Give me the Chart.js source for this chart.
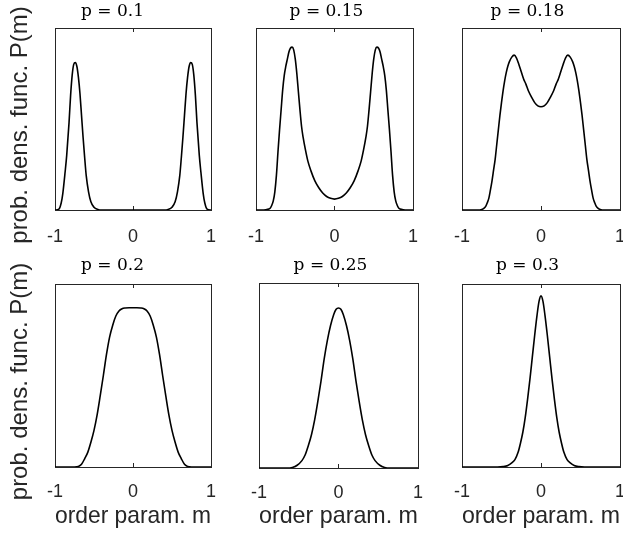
<!DOCTYPE html>
<html>
<head>
<meta charset="utf-8">
<script src="https://cdn.jsdelivr.net/npm/chart.js@4.4.1/dist/chart.umd.min.js"></script>
<style>
html,body{margin:0;padding:0;background:#fff;}
#wrap{position:relative;width:623px;height:542px;overflow:hidden;background:#fff;}
#wrap canvas{position:absolute;}
</style>
</head>
<body>
<div id="wrap"></div>
<script>
// ---- data ----
const panelTitles = ['p = 0.1', 'p = 0.15', 'p = 0.18', 'p = 0.2', 'p = 0.25', 'p = 0.3'];
const xTickValues = [-1, 0, 1];
const xAxisLabel = 'order param. m';
const yAxisLabel = 'prob. dens. func. P(m)';

const m_p010 = [-1,-0.95,-0.92,-0.9,-0.87,-0.85,-0.82,-0.8,-0.78,-0.76,-0.74,-0.72,-0.7,-0.68,-0.66,-0.64,-0.62,-0.6,-0.57,-0.54,-0.5,-0.45,-0.4,-0.3,-0.2,-0.1,0,0.1,0.2,0.3,0.4,0.45,0.5,0.54,0.57,0.6,0.62,0.64,0.66,0.68,0.7,0.72,0.74,0.76,0.78,0.8,0.82,0.85,0.87,0.9,0.92,0.95,1];
const P_p010 = [0,0.005,0.04,0.09,0.21,0.3,0.48,0.63,0.74,0.8,0.81,0.79,0.73,0.64,0.52,0.4,0.29,0.19,0.1,0.045,0.015,0.003,0,0,0,0,0,0,0,0,0,0.003,0.015,0.045,0.1,0.19,0.29,0.4,0.52,0.64,0.73,0.79,0.81,0.8,0.74,0.63,0.48,0.3,0.21,0.09,0.04,0.005,0];

const m_p015 = [-1,-0.9,-0.85,-0.82,-0.8,-0.78,-0.76,-0.74,-0.72,-0.7,-0.68,-0.66,-0.64,-0.62,-0.6,-0.58,-0.56,-0.54,-0.52,-0.5,-0.48,-0.46,-0.44,-0.42,-0.4,-0.37,-0.34,-0.3,-0.25,-0.2,-0.15,-0.1,-0.05,0,0.05,0.1,0.15,0.2,0.25,0.3,0.34,0.37,0.4,0.42,0.44,0.46,0.48,0.5,0.52,0.54,0.56,0.58,0.6,0.62,0.64,0.66,0.68,0.7,0.72,0.74,0.76,0.78,0.8,0.82,0.85,0.9,1];
const P_p015 = [0,0,0.004,0.01,0.025,0.05,0.1,0.19,0.32,0.44,0.55,0.66,0.74,0.79,0.83,0.87,0.89,0.895,0.88,0.83,0.75,0.65,0.55,0.46,0.4,0.33,0.27,0.215,0.16,0.122,0.093,0.074,0.064,0.06,0.064,0.074,0.093,0.122,0.16,0.215,0.27,0.33,0.4,0.46,0.55,0.65,0.75,0.83,0.88,0.895,0.89,0.87,0.83,0.79,0.74,0.66,0.55,0.44,0.32,0.19,0.1,0.05,0.025,0.01,0.004,0,0];

const m_p018 = [-1,-0.8,-0.75,-0.72,-0.7,-0.68,-0.66,-0.64,-0.62,-0.6,-0.58,-0.56,-0.54,-0.52,-0.5,-0.48,-0.46,-0.44,-0.42,-0.4,-0.37,-0.34,-0.31,-0.28,-0.25,-0.22,-0.19,-0.16,-0.12,-0.08,-0.04,0,0.04,0.08,0.12,0.16,0.19,0.22,0.25,0.28,0.31,0.34,0.37,0.4,0.42,0.44,0.46,0.48,0.5,0.52,0.54,0.56,0.58,0.6,0.62,0.64,0.66,0.68,0.7,0.72,0.75,0.8,1];
const P_p018 = [0,0,0.003,0.01,0.02,0.04,0.065,0.11,0.16,0.22,0.28,0.36,0.44,0.52,0.59,0.655,0.71,0.755,0.79,0.815,0.84,0.851,0.835,0.8,0.76,0.72,0.69,0.655,0.62,0.59,0.572,0.567,0.572,0.59,0.62,0.655,0.69,0.72,0.76,0.8,0.835,0.851,0.84,0.815,0.79,0.755,0.71,0.655,0.59,0.52,0.44,0.36,0.28,0.22,0.16,0.11,0.065,0.04,0.02,0.01,0.003,0,0];

const m_p020 = [-1,-0.75,-0.7,-0.66,-0.62,-0.58,-0.54,-0.5,-0.46,-0.42,-0.38,-0.34,-0.3,-0.26,-0.22,-0.18,-0.14,-0.1,-0.05,0,0.05,0.1,0.14,0.18,0.22,0.26,0.3,0.34,0.38,0.42,0.46,0.5,0.54,0.58,0.62,0.66,0.7,0.75,1];
const P_p020 = [0,0,0.003,0.015,0.045,0.08,0.135,0.2,0.285,0.39,0.5,0.615,0.71,0.775,0.825,0.853,0.865,0.869,0.87,0.87,0.87,0.869,0.865,0.853,0.825,0.775,0.71,0.615,0.5,0.39,0.285,0.2,0.135,0.08,0.045,0.015,0.003,0,0];

const m_p025 = [-1,-0.65,-0.58,-0.52,-0.46,-0.42,-0.38,-0.34,-0.3,-0.26,-0.22,-0.18,-0.14,-0.1,-0.06,-0.03,0,0.03,0.06,0.1,0.14,0.18,0.22,0.26,0.3,0.34,0.38,0.42,0.46,0.52,0.58,0.65,1];
const P_p025 = [0,0,0.003,0.015,0.04,0.07,0.12,0.18,0.26,0.36,0.47,0.59,0.69,0.77,0.83,0.858,0.865,0.858,0.83,0.77,0.69,0.59,0.47,0.36,0.26,0.18,0.12,0.07,0.04,0.015,0.003,0,0];

const m_p030 = [-1,-0.55,-0.48,-0.42,-0.37,-0.33,-0.29,-0.26,-0.23,-0.2,-0.17,-0.14,-0.11,-0.08,-0.05,-0.025,0,0.025,0.05,0.08,0.11,0.14,0.17,0.2,0.23,0.26,0.29,0.33,0.37,0.42,0.48,0.55,1];
const P_p030 = [0,0,0.002,0.008,0.022,0.04,0.08,0.13,0.19,0.27,0.37,0.48,0.6,0.72,0.83,0.905,0.935,0.905,0.83,0.72,0.6,0.48,0.37,0.27,0.19,0.13,0.08,0.04,0.022,0.008,0.002,0,0];

const seriesM = [m_p010, m_p015, m_p018, m_p020, m_p025, m_p030];
const seriesP = [P_p010, P_p015, P_p018, P_p020, P_p025, P_p030];

// ---- layout (pixel boxes of each plot area and its canvas) ----
const layouts = [
  {L:55,  T:28,  R:211, B:210, x0:0,   y0:0,   x1:225, y1:250, row:0, col:0},
  {L:256, T:28,  R:413, B:210, x0:226, y0:0,   x1:427, y1:250, row:0, col:1},
  {L:462, T:28,  R:620, B:210, x0:432, y0:0,   x1:623, y1:250, row:0, col:2},
  {L:55,  T:284, R:211, B:467, x0:0,   y0:254, x1:225, y1:542, row:1, col:0},
  {L:259, T:283, R:418, B:468, x0:229, y0:254, x1:432, y1:542, row:1, col:1},
  {L:462, T:284, R:620, B:467, x0:432, y0:254, x1:623, y1:542, row:1, col:2}
];

const AX = '#262626';
const SANS = '"Liberation Sans", Arial, sans-serif';
const wrap = document.getElementById('wrap');

// shifts the y-axis label slightly downward, as in the original figure
const labelShift = {
  id: 'labelShift',
  afterLayout(chart) {
    const s = chart.scales.yLab;
    if (s) { s.top += 6; s.bottom += 6; }
  }
};

layouts.forEach((g, i) => {
  const cv = document.createElement('canvas');
  const w = g.x1 - g.x0, h = g.y1 - g.y0;
  cv.width = w; cv.height = h;
  cv.style.left = g.x0 + 'px'; cv.style.top = g.y0 + 'px';
  cv.style.width = w + 'px'; cv.style.height = h + 'px';
  wrap.appendChild(cv);
  const padL = g.L - g.x0, padR = g.x1 - g.R, padT = g.T - g.y0, padB = g.y1 - g.B;
  const titleSize = 17, titleLH = titleSize * 1.2;
  const pts = seriesM[i].map((m, k) => ({x: m, y: seriesP[i][k]}));
  const noPad = s => { s.paddingLeft = 0; s.paddingRight = 0; s.paddingTop = 0; s.paddingBottom = 0; };
  const hasYLab = g.col === 0;

  const scales = {
    x: {
      type: 'linear', position: 'bottom', min: -1, max: 1,
      afterBuildTicks: s => { s.ticks = xTickValues.map(v => ({value: v})); },
      afterFit: s => { s.height = padB; noPad(s); },
      ticks: {
        color: AX, padding: g.row === 0 ? 20 : 18, maxRotation: 0, autoSkip: false,
        font: {family: SANS, size: 18},
        callback: v => String(v)
      },
      grid: {display: true, drawOnChartArea: false, drawTicks: true, tickLength: -4, color: AX, lineWidth: 1},
      border: {display: true, color: AX, width: 1},
      title: {
        display: g.row === 1, text: xAxisLabel, color: AX,
        font: {family: SANS, size: 24},
        padding: {top: 0, bottom: 10.9}
      }
    },
    x2: {
      type: 'linear', position: 'top', min: -1, max: 1,
      afterBuildTicks: s => { s.ticks = xTickValues.map(v => ({value: v})); },
      afterFit: s => { s.height = 0; noPad(s); },
      ticks: {display: false},
      grid: {display: true, drawOnChartArea: false, drawTicks: true, tickLength: -4, color: AX, lineWidth: 1},
      border: {display: true, color: AX, width: 1}
    },
    y: {
      type: 'linear', position: 'left', min: 0, max: 1,
      afterFit: s => { s.width = hasYLab ? 0 : padL; noPad(s); },
      ticks: {display: false},
      grid: {display: false},
      border: {display: true, color: AX, width: 1}
    },
    y2: {
      type: 'linear', position: 'right', min: 0, max: 1,
      afterFit: s => { s.width = padR; noPad(s); },
      ticks: {display: false},
      grid: {display: false},
      border: {display: true, color: AX, width: 1}
    }
  };
  if (hasYLab) {
    scales.yLab = {
      type: 'linear', position: 'left', weight: 10, min: 0, max: 1,
      afterFit: s => { s.width = padL; noPad(s); },
      ticks: {display: false},
      grid: {display: false},
      border: {display: false},
      title: {
        display: true, text: yAxisLabel, color: AX,
        font: {family: SANS, size: 24},
        padding: {top: 5.6, bottom: 0}
      }
    };
  }

  new Chart(cv, {
    type: 'line',
    data: {datasets: [{
      data: pts,
      xAxisID: 'x', yAxisID: 'y',
      borderColor: '#000',
      borderWidth: 1.6,
      pointRadius: 0,
      fill: false,
      cubicInterpolationMode: 'monotone'
    }]},
    plugins: [labelShift],
    options: {
      responsive: false,
      animation: false,
      devicePixelRatio: 1,
      layout: {padding: 0, autoPadding: false},
      plugins: {
        legend: {display: false},
        tooltip: {enabled: false},
        title: {
          display: true,
          text: panelTitles[i],
          color: '#000',
          font: {family: '"DejaVu Serif", "Liberation Serif", serif', size: titleSize, weight: 'normal', lineHeight: 1.2},
          padding: {top: 1, bottom: padT - titleLH - 1}
        }
      },
      scales: scales
    }
  });
});
</script>
</body>
</html>
